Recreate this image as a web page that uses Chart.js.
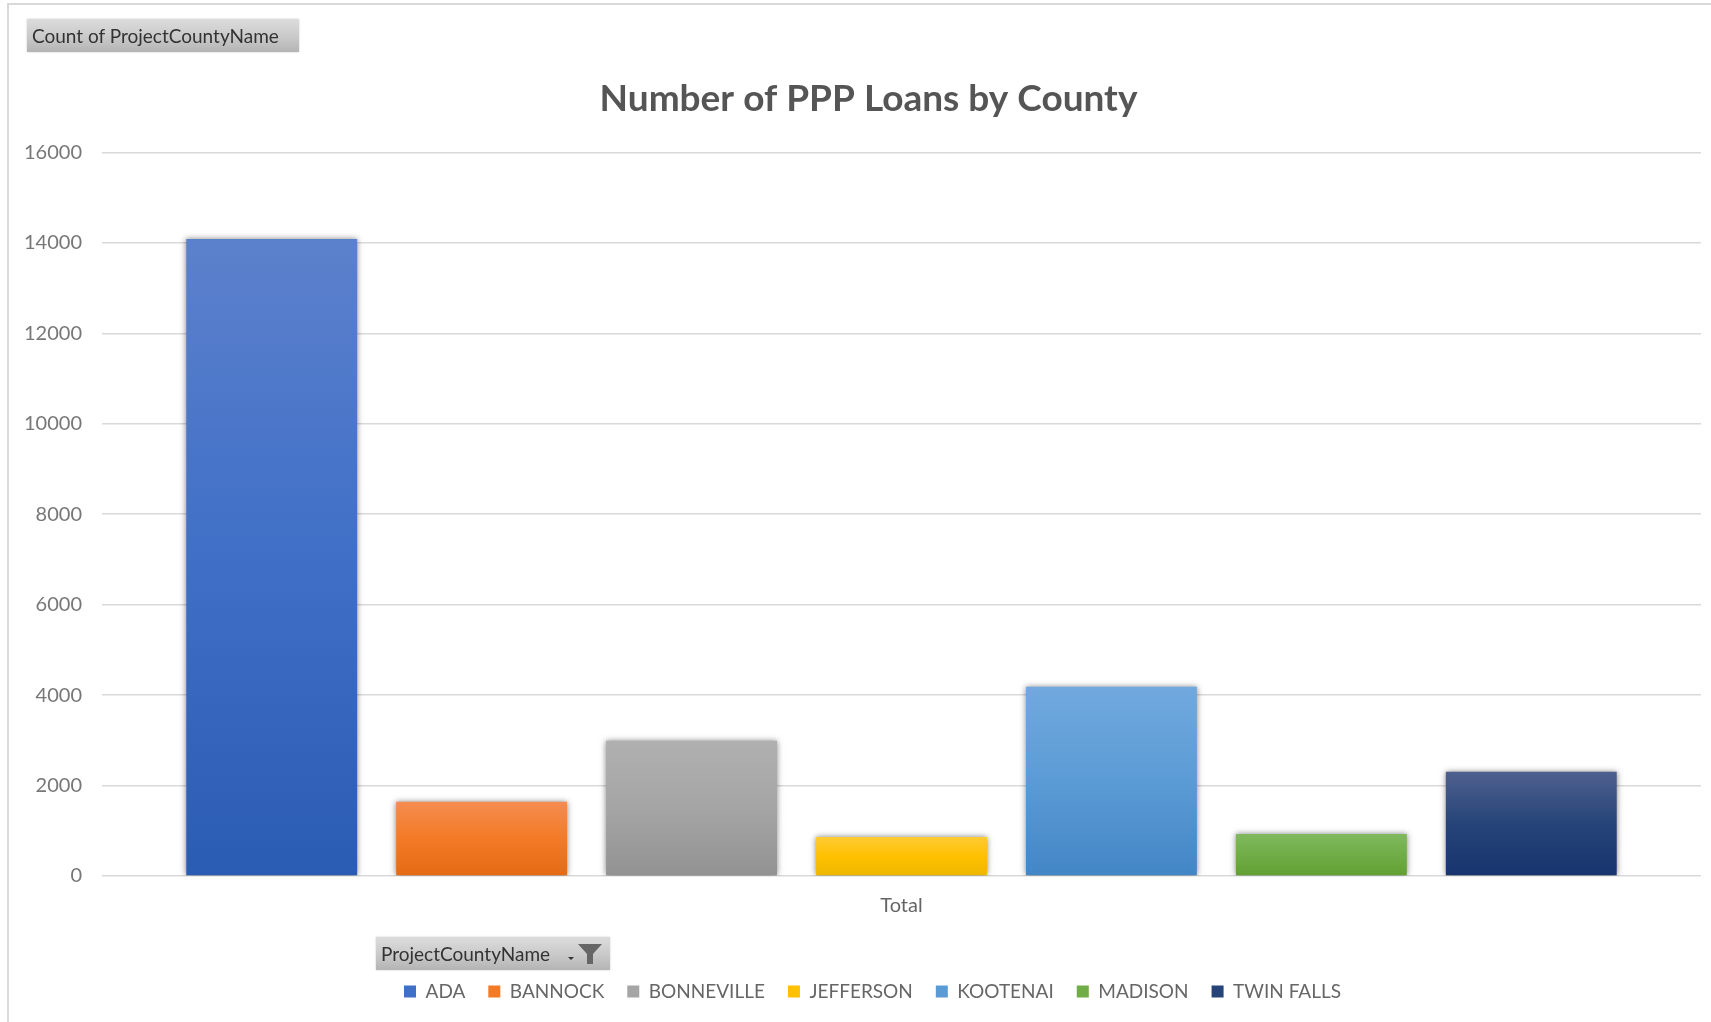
<!DOCTYPE html>
<html>
<head>
<meta charset="utf-8">
<title>Number of PPP Loans by County</title>
<script src="https://cdn.jsdelivr.net/npm/chart.js@4"></script>
<style>
  html, body { margin: 0; background: #fff; overflow: hidden; }
  /* the reference is an upscaled screenshot, hence the slight softness */
  #wrap { position: relative; width: 1711px; height: 1022px; font-family: Lato, sans-serif; filter: blur(0.5px); }
  #chart { position: absolute; left: 0; top: 0; }
  #frame { position: absolute; left: 7px; top: 3px; right: -5px; bottom: -5px;
    border-left: 2px solid #d9d9d9; border-top: 2px solid #d9d9d9; }
  .field { position: absolute; box-sizing: border-box; height: 33px; line-height: 33px; padding-left: 5px;
    font-size: 19px; color: #333; white-space: nowrap;
    background: linear-gradient(#dcdcdc, #c9c9c9 55%, #b4b4b4); box-shadow: 0 0 2px rgba(0,0,0,.2); }
  #countField { left: 27px; top: 19px; width: 272px; }
  #countyField { left: 376px; top: 937px; width: 234px; }
  #countyField svg { position: absolute; left: 192px; top: 5px; }
</style>
</head>
<body>
<div id="wrap">
  <canvas id="chart" width="1711" height="1022"></canvas>
  <div id="frame"></div>
  <div class="field" id="countField">Count of ProjectCountyName</div>
  <div class="field" id="countyField">ProjectCountyName
    <svg width="36" height="24" viewBox="0 0 36 24">
      <polygon points="0,15 6,15 3,18" fill="#333"/>
      <polygon points="10,2 34,2 25,12 25,22 19,22 19,12" fill="#666"/>
    </svg>
  </div>
</div>
<script>
const categories = ['Total'];
const counties = ['ADA', 'BANNOCK', 'BONNEVILLE', 'JEFFERSON', 'KOOTENAI', 'MADISON', 'TWIN FALLS'];
const loanCounts = [14084, 1640, 2990, 865, 4185, 930, 2303];
const yTicks = [0, 2000, 4000, 6000, 8000, 10000, 12000, 14000, 16000];

const topColors = ['#5c81cc', '#f58c50', '#b0b0b0', '#ffcb35', '#71a9de', '#80b95e', '#4e608e'];
const midColors = ['#3f6fc7', '#f37a26', '#a5a5a5', '#ffc000', '#5b9bd5', '#70ad47', '#264478'];
const bottomColors = ['#2b5cb3', '#e56a14', '#929292', '#edb700', '#4386c6', '#619f32', '#17346f'];

// bars fade from the top of each bar down to the axis
function barGradient(i) {
  return function(ctx) {
    const chart = ctx.chart;
    if (!chart.chartArea) return midColors[i];
    const y = chart.scales.y;
    const g = chart.ctx.createLinearGradient(0, y.getPixelForValue(loanCounts[i]), 0, y.getPixelForValue(0));
    g.addColorStop(0, topColors[i]);
    g.addColorStop(0.5, midColors[i]);
    g.addColorStop(1, bottomColors[i]);
    return g;
  };
}

const barShadow = {
  id: 'barShadow',
  beforeDatasetsDraw(chart) {
    const c = chart.ctx;
    c.save();
    c.shadowColor = 'rgba(0, 0, 0, 0.5)';
    c.shadowBlur = 6;
  },
  afterDatasetsDraw(chart) {
    chart.ctx.restore();
  }
};

// title and legend are not quite centred on the canvas in the reference
const nudgeBoxes = {
  id: 'nudgeBoxes',
  afterLayout(chart) {
    chart.titleBlock.left += 6;
    chart.titleBlock.right += 6;
    chart.legend.left += 10;
    chart.legend.right += 10;
  }
};

new Chart(document.getElementById('chart').getContext('2d'), {
  type: 'bar',
  data: {
    labels: categories,
    datasets: counties.map((name, i) => ({
      label: name,
      data: [loanCounts[i]],
      backgroundColor: barGradient(i),
      borderWidth: 0,
      barPercentage: 0.814,
      categoryPercentage: 0.919
    }))
  },
  options: {
    responsive: false,
    animation: false,
    layout: { padding: { left: 24, right: 10, top: 0, bottom: 11 } },
    scales: {
      x: {
        grid: { display: false },
        border: { display: false },
        ticks: { color: '#666', font: { family: 'Lato', size: 20 }, padding: 10 },
        afterFit(s) { s.height = 83; }
      },
      y: {
        min: 0,
        max: 16000,
        afterBuildTicks(s) { s.ticks = yTicks.map(v => ({ value: v })); },
        grid: { color: '#d9d9d9', lineWidth: 1.5, drawTicks: false },
        border: { display: false },
        ticks: { color: '#777', font: { family: 'Lato', size: 20 }, padding: 20, callback: v => String(v) },
        afterFit(s) { s.width = 78; }
      }
    },
    plugins: {
      title: {
        display: true,
        text: 'Number of PPP Loans by County',
        color: '#555',
        font: { family: 'Lato', size: 37, weight: 'bold' },
        padding: { top: 77, bottom: 31 }
      },
      legend: {
        position: 'bottom',
        onClick: null,
        labels: {
          color: '#666',
          font: { family: 'Lato', size: 19 },
          boxWidth: 12,
          boxHeight: 12,
          padding: 23,
          generateLabels: () => counties.map((name, i) => ({
            text: name,
            fillStyle: midColors[i],
            strokeStyle: midColors[i],
            lineWidth: 0,
            fontColor: '#666',
            datasetIndex: i
          }))
        }
      },
      tooltip: { enabled: false }
    }
  },
  plugins: [barShadow, nudgeBoxes]
});
</script>
</body>
</html>
